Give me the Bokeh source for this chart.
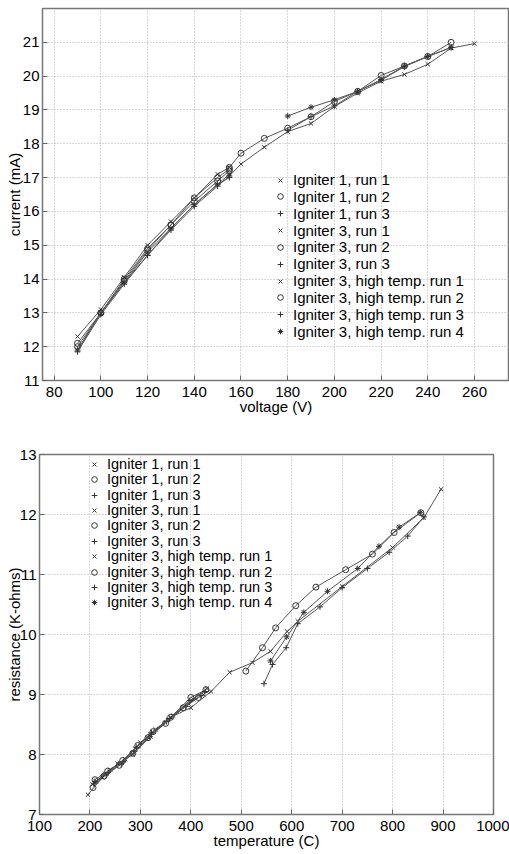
from bokeh.plotting import figure
from bokeh.models import Legend, LegendItem, FixedTicker, Range1d
from bokeh.layouts import column, row
from bokeh.embed import file_html
from bokeh.resources import INLINE

# ---------------- data ----------------
labels = ["Igniter 1, run 1", "Igniter 1, run 2", "Igniter 1, run 3",
          "Igniter 3, run 1", "Igniter 3, run 2", "Igniter 3, run 3",
          "Igniter 3, high temp. run 1", "Igniter 3, high temp. run 2",
          "Igniter 3, high temp. run 3", "Igniter 3, high temp. run 4"]
markers = ["x", "circle", "cross", "x", "circle", "cross", "x", "circle", "cross", "asterisk"]

# current vs voltage
volt_low = [90, 100, 110, 120, 130, 140, 150, 155]
cur_i1r1 = [11.9, 13.0, 13.9, 14.8, 15.5, 16.2, 16.8, 17.1]
cur_i1r2 = [12.1, 13.0, 14.0, 14.9, 15.6, 16.3, 16.9, 17.2]
cur_i1r3 = [11.9, 13.0, 13.9, 14.7, 15.5, 16.2, 16.8, 17.0]
cur_i3r1 = [12.3, 13.1, 14.05, 15.0, 15.7, 16.4, 17.1, 17.3]
cur_i3r2 = [12.0, 13.0, 13.95, 14.85, 15.6, 16.4, 17.0, 17.25]
cur_i3r3 = [11.85, 12.95, 13.85, 14.7, 15.45, 16.15, 16.75, 17.05]
volt_ht1 = [155, 160, 170, 180, 190, 200, 210, 220, 230, 240, 250, 260]
cur_ht1 = [17.05, 17.4, 17.9, 18.36, 18.6, 19.1, 19.5, 19.85, 20.05, 20.35, 20.83, 20.96]
volt_ht2 = [155, 160, 170, 180, 190, 200, 210, 220, 230, 240, 250]
cur_ht2 = [17.3, 17.72, 18.16, 18.46, 18.8, 19.25, 19.55, 20.02, 20.3, 20.58, 21.0]
volt_ht3 = [180, 190, 200, 210, 220, 230, 240, 250]
cur_ht3 = [18.4, 18.8, 19.12, 19.55, 19.88, 20.28, 20.58, 20.85]
volt_ht4 = [180, 190, 200, 210, 220, 230, 240, 250]
cur_ht4 = [18.82, 19.08, 19.3, 19.55, 19.9, 20.3, 20.58, 20.85]

volt_series = [volt_low] * 6 + [volt_ht1, volt_ht2, volt_ht3, volt_ht4]
cur_series = [cur_i1r1, cur_i1r2, cur_i1r3, cur_i3r1, cur_i3r2, cur_i3r3,
              cur_ht1, cur_ht2, cur_ht3, cur_ht4]

# resistance vs temperature
temp_i1r1 = [205, 230, 260, 290, 320, 355, 395, 425]
res_i1r1 = [7.5, 7.68, 7.86, 8.1, 8.33, 8.58, 8.85, 9.0]
temp_i1r2 = [210, 235, 265, 295, 325, 360, 400, 430]
res_i1r2 = [7.58, 7.72, 7.9, 8.15, 8.38, 8.62, 8.95, 9.08]
temp_i1r3 = [208, 232, 262, 288, 318, 352, 390, 420]
res_i1r3 = [7.52, 7.66, 7.84, 8.05, 8.3, 8.55, 8.8, 8.98]
temp_i3r1 = [212, 240, 270, 300, 330, 365, 405, 432]
res_i3r1 = [7.55, 7.75, 7.92, 8.2, 8.42, 8.65, 8.92, 9.1]
temp_i3r2 = [206, 228, 258, 285, 315, 350, 385, 415]
res_i3r2 = [7.45, 7.64, 7.82, 8.02, 8.28, 8.52, 8.78, 8.95]
temp_i3r3 = [210, 236, 266, 292, 322, 358, 398, 428]
res_i3r3 = [7.55, 7.7, 7.88, 8.12, 8.36, 8.6, 8.9, 9.05]
temp_ht1 = [196, 225, 255, 285, 320, 360, 400, 440, 477, 522, 558, 591, 612, 700, 800, 862, 896]
res_ht1 = [7.33, 7.62, 7.85, 8.0, 8.3, 8.62, 8.78, 9.05, 9.37, 9.53, 9.72, 10.05, 10.22, 10.8, 11.45, 11.95, 12.42]
temp_ht2 = [509, 542, 568, 608, 648, 707, 760, 803, 856]
res_ht2 = [9.39, 9.78, 10.11, 10.48, 10.79, 11.08, 11.34, 11.7, 12.03]
temp_ht3 = [545, 562, 589, 612, 656, 700, 750, 793, 830, 862]
res_ht3 = [9.18, 9.5, 9.78, 10.18, 10.46, 10.78, 11.1, 11.37, 11.64, 11.96]
temp_ht4 = [558, 590, 624, 671, 731, 773, 813, 855]
res_ht4 = [9.56, 9.96, 10.37, 10.72, 11.1, 11.47, 11.79, 12.03]

temp_series = [temp_i1r1, temp_i1r2, temp_i1r3, temp_i3r1, temp_i3r2, temp_i3r3,
               temp_ht1, temp_ht2, temp_ht3, temp_ht4]
res_series = [res_i1r1, res_i1r2, res_i1r3, res_i3r1, res_i3r2, res_i3r3,
              res_ht1, res_ht2, res_ht3, res_ht4]

volt_ticks = [80, 100, 120, 140, 160, 180, 200, 220, 240, 260]
cur_ticks = [11, 12, 13, 14, 15, 16, 17, 18, 19, 20, 21]
temp_ticks = [100, 200, 300, 400, 500, 600, 700, 800, 900, 1000]
res_ticks = [7, 8, 9, 10, 11, 12, 13]

FONT = "Liberation Sans"
LINE_COLOR = "#555555"
MARK_COLOR = "#333333"


def make_fig(width, height, xr, yr, xticks, yticks, xlabel, ylabel,
             top_border, left_border, right_border, ylabel_standoff):
    p = figure(width=width, height=height, x_range=Range1d(*xr), y_range=Range1d(*yr),
               output_backend="svg", toolbar_location=None,
               min_border_left=left_border, min_border_right=right_border,
               min_border_top=top_border, min_border_bottom=38)
    p.xaxis.ticker = FixedTicker(ticks=xticks)
    p.yaxis.ticker = FixedTicker(ticks=yticks)
    p.xaxis.axis_label = xlabel
    p.yaxis.axis_label = ylabel
    for ax in p.axis:
        ax.major_label_text_font = FONT
        ax.major_label_text_font_size = "15px"
        ax.major_label_text_color = "black"
        ax.axis_label_text_font = FONT
        ax.axis_label_text_font_size = "15px"
        ax.axis_label_text_font_style = "normal"
        ax.axis_label_text_color = "black"
        ax.major_tick_in = 5
        ax.major_tick_out = 0
        ax.minor_tick_in = 0
        ax.minor_tick_out = 0
        ax.major_tick_line_color = "#666666"
        ax.axis_line_color = None
    p.xaxis.major_label_standoff = 6
    p.xaxis.axis_label_standoff = -2
    p.yaxis.major_label_standoff = 3
    p.yaxis.axis_label_standoff = ylabel_standoff
    p.grid.grid_line_color = "#b0b0b0"
    p.grid.grid_line_dash = "1 2"
    p.outline_line_color = "#777777"
    p.outline_line_width = 1.5
    p.background_fill_color = "white"
    p.border_fill_color = "white"
    return p


def add_series(p, xs_list, ys_list):
    items = []
    for xs, ys, mk, lab in zip(xs_list, ys_list, markers, labels):
        p.line(xs, ys, line_color=LINE_COLOR, line_width=1)
        r = p.scatter(xs, ys, marker=mk, size=6, line_color=MARK_COLOR,
                      fill_color=None, line_width=1)
        items.append(LegendItem(label=lab, renderers=[r]))
    return items


def add_legend_rows(p, items, x0, y_first, pitch, font_size):
    # one single-row legend per entry, stacked with a fixed row pitch (screen px)
    for i, item in enumerate(items):
        leg = Legend(items=[item], location=(x0, y_first - i * pitch),
                     orientation="vertical",
                     background_fill_alpha=0, border_line_alpha=0,
                     padding=0, margin=0, spacing=0,
                     glyph_width=16, glyph_height=14, label_height=14,
                     label_standoff=5,
                     label_text_font=FONT, label_text_font_size=font_size,
                     label_text_color="black")
        p.add_layout(leg, "center")


p1 = make_fig(509, 418, (75, 275), (11, 22), volt_ticks, cur_ticks,
              "voltage (V)", "current (mA)", 8, 42, 0, -3)
items1 = add_series(p1, volt_series, cur_series)
add_legend_rows(p1, items1, 230, 192.0, 16.85, "15px")

p2 = make_fig(509, 434, (100, 1000), (7, 13), temp_ticks, res_ticks,
              "temperature (C)", "resistance (K-ohms)", 36, 39, 16, -6)
items2 = add_series(p2, temp_series, res_series)
add_legend_rows(p2, items2, 47, 342.0, 15.37, "14.5px")

layout = column(row(p1), row(p2), spacing=0)

with open("out.html", "w") as f:
    f.write(file_html(layout, INLINE))
